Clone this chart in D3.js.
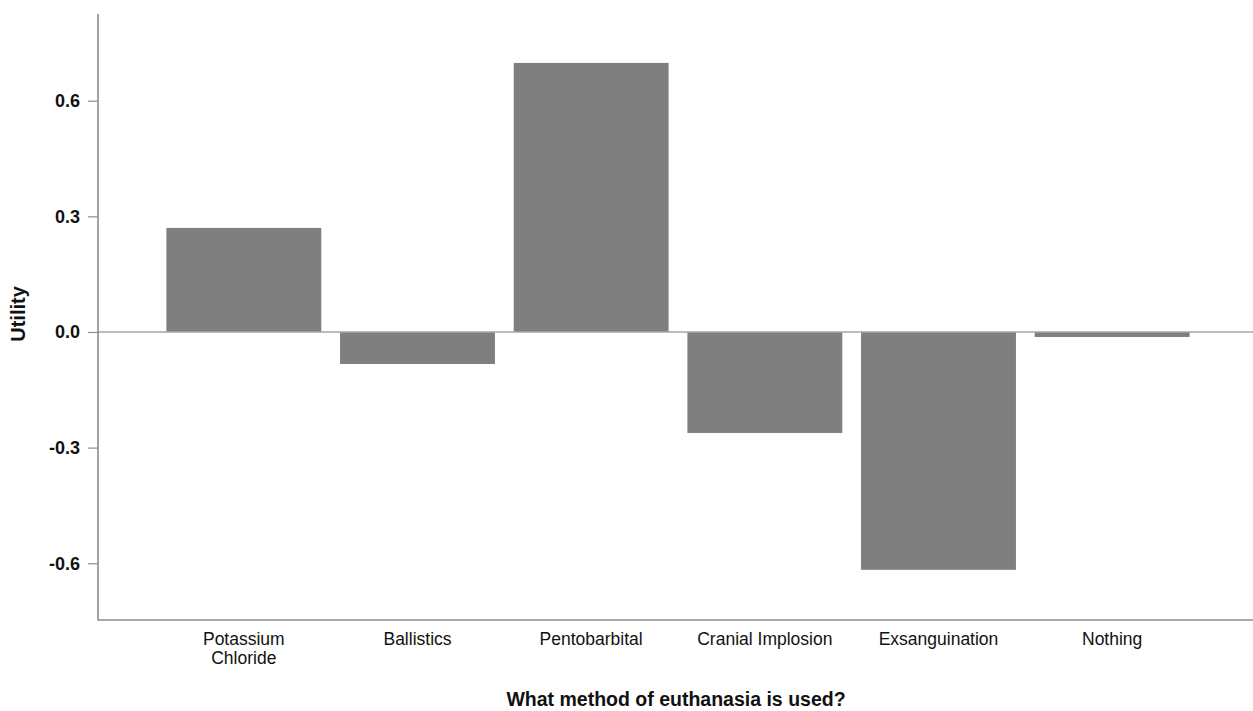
<!DOCTYPE html>
<html><head><meta charset="utf-8">
<script src="https://cdn.jsdelivr.net/npm/d3@7"></script>
<style>body{margin:0;background:#fff}svg{display:block}text{font-family:"Liberation Sans",Arial,sans-serif;fill:#111}</style>
</head><body><svg id="c" width="1253" height="711"></svg>
<script>
const categories = [["Potassium","Chloride"],["Ballistics"],["Pentobarbital"],["Cranial Implosion"],["Exsanguination"],["Nothing"]];
const values = [0.27, -0.083, 0.698, -0.262, -0.617, -0.013];
const yTicks = [-0.6, -0.3, 0.0, 0.3, 0.6];
const yTitle = "Utility";
const xTitle = "What method of euthanasia is used?";

const svg = d3.select("#c");
const mLeft = 98, mRight = 1253, mTop = 14, mBottom = 620;
const keys = categories.map(c => c.join(" "));
const x = d3.scaleBand().domain(keys).range([157, 1199]).paddingInner(0.108).paddingOuter(0.054);
const y = d3.scaleLinear().domain([-0.7472, 0.8249]).range([mBottom, mTop]);
const axisCol = "#8c8c8c";
const fmt = d => d3.format(".1f")(d).replace("\u2212", "-");

// bars
svg.append("g").selectAll("rect").data(values).join("rect")
  .attr("x", (d,i) => x(keys[i]))
  .attr("width", x.bandwidth())
  .attr("y", d => y(Math.max(0,d)))
  .attr("height", d => Math.abs(y(d) - y(0)))
  .attr("fill", "#7f7f7f");

// zero line
svg.append("line").attr("x1", mLeft).attr("x2", mRight).attr("y1", y(0)).attr("y2", y(0))
  .attr("stroke", "#a6a6a6").attr("stroke-width", 1.5);

// y axis
const ya = svg.append("g").attr("transform", `translate(${mLeft},0)`)
  .call(d3.axisLeft(y).tickValues(yTicks).tickFormat(fmt).tickSize(10).tickPadding(8));
ya.select(".domain").remove();
ya.selectAll(".tick line").attr("stroke", axisCol).attr("stroke-width", 1.2);
ya.selectAll(".tick text").style("font-size", "18px").style("font-weight", "bold").style("fill", "#111")
  .style("font-family", '"Liberation Sans",Arial,sans-serif');

// frame lines (left and bottom)
svg.append("path").attr("d", `M${mLeft},${mTop}V${mBottom}H${mRight}`).attr("fill","none")
  .attr("stroke", axisCol).attr("stroke-width", 1.6);

// x labels
const xl = svg.append("g");
categories.forEach((c,i) => {
  const cx = x(keys[i]) + x.bandwidth()/2;
  const t = xl.append("text").attr("x", cx).attr("y", 645)
    .attr("text-anchor","middle").style("font-size","17.5px");
  c.forEach((line,j) => t.append("tspan").attr("x", cx).attr("dy", j ? 19 : 0).text(line));
});

// titles
svg.append("text").attr("x", 676).attr("y", 706).attr("text-anchor","middle")
  .style("font-size","19.5px").style("font-weight","bold").text(xTitle);
svg.append("text").attr("transform", "translate(25,314) rotate(-90)").attr("text-anchor","middle")
  .style("font-size","20px").style("font-weight","bold").text(yTitle);
</script></body></html>
